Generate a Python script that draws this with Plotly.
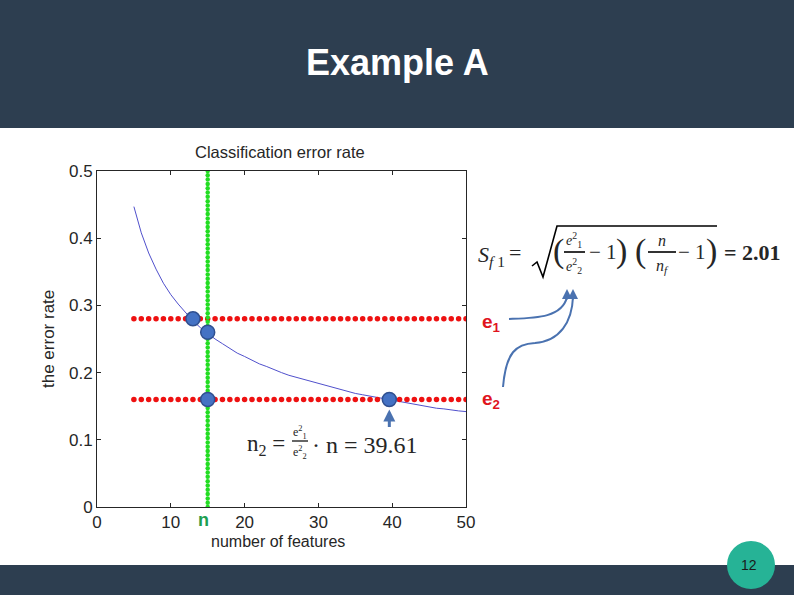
import numpy as np
import plotly.graph_objects as go

# ---------------- data ----------------
curve_x = list(range(5, 51))
curve_y = [0.447, 0.408, 0.378, 0.354, 0.333, 0.316, 0.302, 0.289, 0.277, 0.267,
           0.258, 0.250, 0.243, 0.236, 0.229, 0.224, 0.218, 0.213, 0.209, 0.204,
           0.200, 0.196, 0.193, 0.189, 0.186, 0.183, 0.180, 0.177, 0.174, 0.172,
           0.169, 0.167, 0.165, 0.162, 0.160, 0.158, 0.156, 0.154, 0.153, 0.151,
           0.149, 0.147, 0.146, 0.144, 0.143, 0.142]
e1_level = 0.28
e2_level = 0.16
red_x = list(range(5, 51))
n_feat = 15
green_y = list(np.linspace(0, 0.5, 79))
pts_x = [13, 15, 15, 39.61]
pts_y = [0.28, 0.26, 0.16, 0.16]
x_ticks = [0, 10, 20, 30, 40, 50]
y_ticks = [0, 0.1, 0.2, 0.3, 0.4, 0.5]

W, H = 794, 595
def px(x):
    return x / W
def py(y):
    return 1 - y / H

DARK = "#2D3E50"
TXT = "#262626"
BLUE_ARROW = "#4A72B0"

fig = go.Figure()
fig.add_trace(go.Scatter(x=curve_x, y=curve_y, mode="lines",
                         line=dict(color="#5050CC", width=1), hoverinfo="skip"))
fig.add_trace(go.Scatter(x=red_x, y=[e1_level] * len(red_x), mode="markers",
                         marker=dict(color="#EE1111", size=5.5), hoverinfo="skip"))
fig.add_trace(go.Scatter(x=red_x, y=[e2_level] * len(red_x), mode="markers",
                         marker=dict(color="#EE1111", size=5.5), hoverinfo="skip"))
fig.add_trace(go.Scatter(x=[n_feat] * len(green_y), y=green_y, mode="markers",
                         marker=dict(color="#22DD22", size=4.5), hoverinfo="skip"))
fig.add_trace(go.Scatter(x=pts_x, y=pts_y, mode="markers",
                         marker=dict(color="#4472C4", size=14,
                                     line=dict(color="#2F4F8F", width=1.5)),
                         hoverinfo="skip"))

shapes = [
    dict(type="rect", xref="paper", yref="paper", x0=0, x1=1, y0=py(128), y1=1,
         fillcolor=DARK, line=dict(width=0), layer="below"),
    dict(type="rect", xref="paper", yref="paper", x0=0, x1=1, y0=0, y1=py(565),
         fillcolor=DARK, line=dict(width=0), layer="above"),
    dict(type="circle", xref="paper", yref="paper", x0=px(727), x1=px(775),
         y0=py(589), y1=py(541), fillcolor="#26B396", line=dict(width=0), layer="above"),
    # curved arrows
    dict(type="path", xref="paper", yref="paper",
         path=f"M {px(509)} {py(319)} C {px(535)} {py(318)} {px(562)} {py(318)} {px(567)} {py(297)}",
         line=dict(color=BLUE_ARROW, width=2)),
    dict(type="path", xref="paper", yref="paper",
         path=(f"M {px(503)} {py(387)} C {px(506)} {py(352)} {px(516)} {py(344)} {px(535)} {py(343)} "
               f"C {px(560)} {py(341)} {px(572)} {py(322)} {px(573)} {py(297)}"),
         line=dict(color=BLUE_ARROW, width=2)),
    # radical sign
    dict(type="path", xref="paper", yref="paper",
         path=(f"M {px(532)} {py(266)} L {px(537)} {py(262)} L {px(543)} {py(277)} "
               f"L {px(557)} {py(226)} L {px(717)} {py(226)}"),
         line=dict(color="black", width=1.6)),
    # fraction bars
    dict(type="line", xref="paper", yref="paper", x0=px(564), x1=px(585), y0=py(252), y1=py(252),
         line=dict(color="black", width=1.6)),
    dict(type="line", xref="paper", yref="paper", x0=px(648), x1=px(676), y0=py(252), y1=py(252),
         line=dict(color="black", width=1.6)),
    dict(type="line", xref="paper", yref="paper", x0=px(292), x1=px(308), y0=py(441), y1=py(441),
         line=dict(color="black", width=1.2)),
]

ann = []
def T(x, y, text, size=14, color=TXT, family="Liberation Sans", xanchor="center", **kw):
    ann.append(dict(x=px(x), y=py(y), xref="paper", yref="paper", text=text, showarrow=False,
                    xanchor=xanchor, yanchor="middle",
                    font=dict(size=size, color=color, family=family), **kw))

T(397, 63, "<b>Example A</b>", size=36, color="white")
T(280, 152, "Classification error rate", size=16.5)
T(278, 541, "number of features", size=16)
ann.append(dict(x=px(48), y=py(339), xref="paper", yref="paper", text="the error rate",
                showarrow=False, textangle=-90, xanchor="center", yanchor="middle",
                font=dict(size=17, color=TXT, family="Liberation Sans")))
T(203, 520, "<b>n</b>", size=18, color="#1E9E50")
T(480, 323, "<b>e<sub>1</sub></b>", size=19, color="#E0141E", xanchor="left")
T(480, 400, "<b>e<sub>2</sub></b>", size=19, color="#E0141E", xanchor="left")
T(749, 565, "12", size=14, color="#1A1A1A")

SERIF = "Liberation Serif"
# S_f1 formula
T(476, 256, "<i>S</i><sub><i>f</i> 1</sub>", size=22, family=SERIF, xanchor="left")
T(515, 252, "=", size=22, family=SERIF)
T(558, 251, "(", size=34, family=SERIF)
T(574, 240, "<i>e</i><sup>2</sup><sub>1</sub>", size=14, family=SERIF)
T(574, 266, "<i>e</i><sup>2</sup><sub>2</sub>", size=14, family=SERIF)
T(603, 252, "− 1", size=21, family=SERIF)
T(621, 251, ")", size=34, family=SERIF)
T(640, 251, "(", size=34, family=SERIF)
T(662, 240, "<i>n</i>", size=16, family=SERIF)
T(662, 266, "<i>n<sub>f</sub></i>", size=16, family=SERIF)
T(692, 252, "− 1", size=21, family=SERIF)
T(711, 251, ")", size=34, family=SERIF)
T(722, 252, "<b>= 2.01</b>", size=22, family=SERIF, xanchor="left")

# n2 formula
T(245, 445, "n<sub>2</sub> =", size=23, family=SERIF, xanchor="left")
T(300, 432, "e<sup>2</sup><sub>1</sub>", size=12, family=SERIF)
T(300, 452, "e<sup>2</sup><sub>2</sub>", size=12, family=SERIF)
T(310, 445, "· n = 39.61", size=24, family=SERIF, xanchor="left")

# arrowheads
for (x, y) in [(567, 289), (573, 289)]:
    ann.append(dict(x=px(x), y=py(y), xref="paper", yref="paper", ax=0, ay=12, text="",
                    showarrow=True, arrowhead=2, arrowsize=1, arrowwidth=2, arrowcolor=BLUE_ARROW))
ann.append(dict(x=39.61, y=0.145, xref="x", yref="y", ax=39.61, ay=0.117, axref="x", ayref="y",
                text="", showarrow=True, arrowhead=2, arrowsize=0.8, arrowwidth=3,
                arrowcolor=BLUE_ARROW))

fig.update_layout(
    width=W, height=H, margin=dict(l=0, r=0, t=0, b=0, pad=0),
    paper_bgcolor="white", plot_bgcolor="white", showlegend=False,
    xaxis=dict(domain=[px(97), px(466)], range=[0, 50], tickvals=x_ticks, automargin=False,
               showline=True, linecolor=TXT, linewidth=1, mirror="ticks",
               ticks="inside", ticklen=4, tickcolor=TXT, showgrid=False, zeroline=False,
               tickfont=dict(size=17, color=TXT, family="Liberation Sans")),
    yaxis=dict(domain=[py(507), py(171)], range=[0, 0.5], tickvals=y_ticks, automargin=False,
               ticktext=["0", "0.1", "0.2", "0.3", "0.4", "0.5"],
               showline=True, linecolor=TXT, linewidth=1, mirror="ticks",
               ticks="inside", ticklen=4, tickcolor=TXT, showgrid=False, zeroline=False,
               tickfont=dict(size=17, color=TXT, family="Liberation Sans")),
    shapes=shapes, annotations=ann,
)
fig.write_html("out.html", config={"displayModeBar": False},
               post_script="document.body.style.margin='0';document.body.style.overflow='hidden';")
